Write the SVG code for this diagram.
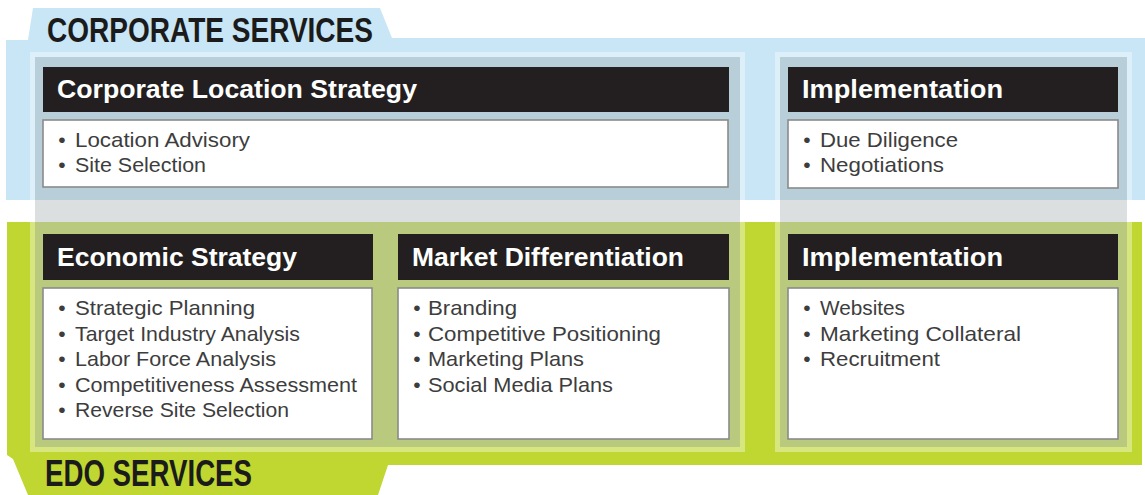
<svg xmlns="http://www.w3.org/2000/svg" width="1145" height="495" viewBox="0 0 1145 495">
  <style>
    .band-title { font-family: "Liberation Sans", Arial, sans-serif; font-weight: bold; fill: #1b1b1b; }
    .bar { fill: #231f20; }
    .bar-text { font-family: "Liberation Sans", Arial, sans-serif; font-weight: bold; font-size: 26px; fill: #ffffff; }
    .box { fill: #ffffff; stroke: #8a8a8a; stroke-width: 1.6; }
    .item { font-family: "Liberation Sans", Arial, sans-serif; font-size: 21px; fill: #3d3d3d; }
    .dot { font-family: "Liberation Sans", Arial, sans-serif; font-size: 21px; fill: #3d3d3d; text-anchor: middle; }
    .rim { fill: #ffffff; fill-opacity: 0.38; }
    .shade-blue { fill: #b8cfda; }
    .shade-gap { fill: #dcdfdf; }
    .shade-green { fill: #b9ca7e; }
  </style>

  <!-- background bands -->
  <g id="bands">
    <path id="corporate-band" d="M6,40 L28,40 L33,8 L380,8 L392,38 L1145,38 L1145,200 L6,200 Z" fill="#c8e6f5"/>
    <path id="edo-band" d="M7,222 L1142,222 L1142,465 L388,465 L378,495 L28,495 L13,459 L7,455 Z" fill="#bfd730"/>
    <text class="band-title" x="47" y="42" font-size="35" textLength="326" lengthAdjust="spacingAndGlyphs">CORPORATE SERVICES</text>
    <text class="band-title" x="45" y="486" font-size="36" textLength="207" lengthAdjust="spacingAndGlyphs">EDO SERVICES</text>
  </g>

  <!-- translucent column panels: light rim, then shaded body per band -->
  <g id="panels">
    <rect class="rim" x="30" y="52" width="715" height="400"/>
    <rect class="shade-blue" x="35" y="57" width="705" height="143"/>
    <rect class="shade-gap" x="35" y="200" width="705" height="22"/>
    <rect class="shade-green" x="35" y="222" width="705" height="225"/>
    <rect class="rim" x="775" y="52" width="357" height="400"/>
    <rect class="shade-blue" x="780" y="57" width="347" height="143"/>
    <rect class="shade-gap" x="780" y="200" width="347" height="22"/>
    <rect class="shade-green" x="780" y="222" width="347" height="225"/>
  </g>

  <!-- Corporate Location Strategy -->
  <g id="corporate-location-strategy">
    <rect class="bar" x="43" y="67" width="686" height="45"/>
    <text class="bar-text" x="57" y="98" textLength="360" lengthAdjust="spacingAndGlyphs">Corporate Location Strategy</text>
    <rect class="box" x="43" y="120" width="685" height="67"/>
    <text class="dot" x="62" y="147">•</text>
    <text class="item" x="75" y="147" textLength="175" lengthAdjust="spacingAndGlyphs">Location Advisory</text>
    <text class="dot" x="62" y="172">•</text>
    <text class="item" x="75" y="172" textLength="131" lengthAdjust="spacingAndGlyphs">Site Selection</text>
  </g>

  <!-- Corporate Implementation -->
  <g id="corporate-implementation">
    <rect class="bar" x="788" y="67" width="330" height="45"/>
    <text class="bar-text" x="802" y="98" textLength="201" lengthAdjust="spacingAndGlyphs">Implementation</text>
    <rect class="box" x="788" y="120" width="330" height="68"/>
    <text class="dot" x="807" y="147">•</text>
    <text class="item" x="820" y="147" textLength="138" lengthAdjust="spacingAndGlyphs">Due Diligence</text>
    <text class="dot" x="807" y="172">•</text>
    <text class="item" x="820" y="172" textLength="124" lengthAdjust="spacingAndGlyphs">Negotiations</text>
  </g>

  <!-- Economic Strategy -->
  <g id="economic-strategy">
    <rect class="bar" x="43" y="234" width="330" height="46"/>
    <text class="bar-text" x="57" y="266" textLength="240" lengthAdjust="spacingAndGlyphs">Economic Strategy</text>
    <rect class="box" x="43" y="288" width="329" height="151"/>
    <text class="dot" x="62" y="315">•</text>
    <text class="item" x="75" y="315" textLength="180" lengthAdjust="spacingAndGlyphs">Strategic Planning</text>
    <text class="dot" x="62" y="340.6">•</text>
    <text class="item" x="75" y="340.6" textLength="225" lengthAdjust="spacingAndGlyphs">Target Industry Analysis</text>
    <text class="dot" x="62" y="366.2">•</text>
    <text class="item" x="75" y="366.2" textLength="201" lengthAdjust="spacingAndGlyphs">Labor Force Analysis</text>
    <text class="dot" x="62" y="391.8">•</text>
    <text class="item" x="75" y="391.8" textLength="282" lengthAdjust="spacingAndGlyphs">Competitiveness Assessment</text>
    <text class="dot" x="62" y="417.4">•</text>
    <text class="item" x="75" y="417.4" textLength="214" lengthAdjust="spacingAndGlyphs">Reverse Site Selection</text>
  </g>

  <!-- Market Differentiation -->
  <g id="market-differentiation">
    <rect class="bar" x="398" y="234" width="331" height="46"/>
    <text class="bar-text" x="412" y="266" textLength="272" lengthAdjust="spacingAndGlyphs">Market Differentiation</text>
    <rect class="box" x="398" y="288" width="331" height="151"/>
    <text class="dot" x="417" y="315">•</text>
    <text class="item" x="428" y="315" textLength="89" lengthAdjust="spacingAndGlyphs">Branding</text>
    <text class="dot" x="417" y="340.6">•</text>
    <text class="item" x="428" y="340.6" textLength="233" lengthAdjust="spacingAndGlyphs">Competitive Positioning</text>
    <text class="dot" x="417" y="366.2">•</text>
    <text class="item" x="428" y="366.2" textLength="156" lengthAdjust="spacingAndGlyphs">Marketing Plans</text>
    <text class="dot" x="417" y="391.8">•</text>
    <text class="item" x="428" y="391.8" textLength="185" lengthAdjust="spacingAndGlyphs">Social Media Plans</text>
  </g>

  <!-- EDO Implementation -->
  <g id="edo-implementation">
    <rect class="bar" x="788" y="234" width="330" height="46"/>
    <text class="bar-text" x="802" y="266" textLength="201" lengthAdjust="spacingAndGlyphs">Implementation</text>
    <rect class="box" x="788" y="288" width="330" height="151"/>
    <text class="dot" x="807" y="315">•</text>
    <text class="item" x="820" y="315" textLength="85" lengthAdjust="spacingAndGlyphs">Websites</text>
    <text class="dot" x="807" y="340.6">•</text>
    <text class="item" x="820" y="340.6" textLength="201" lengthAdjust="spacingAndGlyphs">Marketing Collateral</text>
    <text class="dot" x="807" y="366.2">•</text>
    <text class="item" x="820" y="366.2" textLength="120" lengthAdjust="spacingAndGlyphs">Recruitment</text>
  </g>
</svg>
